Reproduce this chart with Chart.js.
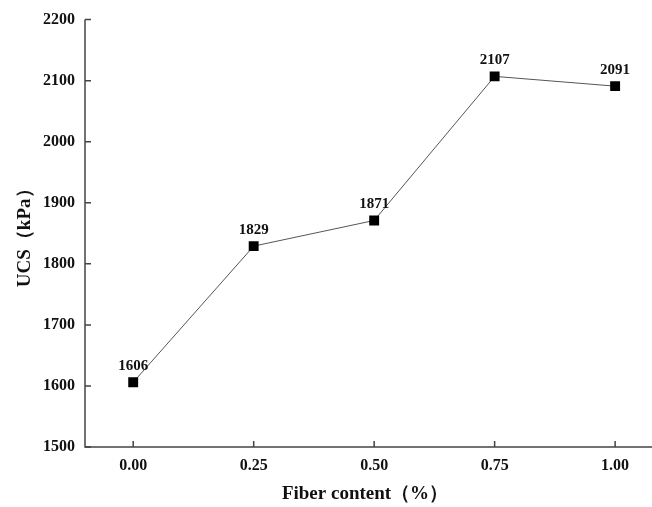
<!DOCTYPE html>
<html lang="en">
  <head>
    <meta charset="UTF-8" />
    <title>UCS vs Fiber content</title>
    <script src="https://cdn.jsdelivr.net/npm/chart.js"></script>
    <style>
      html, body { margin: 0; padding: 0; background: #fff; }
      #wrap { width: 652px; height: 507px; }
    </style>
  </head>
  <body>
    <div id="wrap"><canvas id="ucsChart" width="652" height="507"></canvas></div>

    <script>
      const fiberContent = [0.00, 0.25, 0.50, 0.75, 1.00];
      const ucsValues = [1606, 1829, 1871, 2107, 2091];
      const xTicks = [0.00, 0.25, 0.50, 0.75, 1.00];
      const yTicks = [1500, 1600, 1700, 1800, 1900, 2000, 2100, 2200];

      const FONT = '"Liberation Serif", "Times New Roman", serif';
      const AXIS_COLOR = '#444';

      // labels above each point
      const valueLabels = {
        id: 'valueLabels',
        afterDatasetsDraw(chart) {
          const ctx = chart.ctx;
          const meta = chart.getDatasetMeta(0);
          ctx.save();
          ctx.font = 'bold 15px ' + FONT;
          ctx.fillStyle = '#111';
          ctx.textAlign = 'center';
          ctx.textBaseline = 'alphabetic';
          meta.data.forEach((pt, i) => {
            ctx.fillText(String(ucsValues[i]), pt.x, pt.y - 12);
          });
          ctx.restore();
        }
      };

      // left + bottom axis lines with inward ticks
      const axesLines = {
        id: 'axesLines',
        afterDraw(chart) {
          const ctx = chart.ctx;
          const area = chart.chartArea;
          const xs = chart.scales.x, ys = chart.scales.y;
          ctx.save();
          ctx.strokeStyle = AXIS_COLOR;
          ctx.lineWidth = 1.5;
          ctx.beginPath();
          ctx.moveTo(area.left, area.top);
          ctx.lineTo(area.left, area.bottom);
          ctx.lineTo(chart.width, area.bottom);
          ctx.stroke();
          ctx.beginPath();
          ys.ticks.forEach(t => {
            const y = ys.getPixelForValue(t.value);
            ctx.moveTo(area.left, y);
            ctx.lineTo(area.left + 6, y);
          });
          xs.ticks.forEach(t => {
            const x = xs.getPixelForValue(t.value);
            ctx.moveTo(x, area.bottom);
            ctx.lineTo(x, area.bottom - 6);
          });
          ctx.stroke();
          ctx.restore();
        }
      };

      new Chart(document.getElementById('ucsChart').getContext('2d'), {
        type: 'line',
        data: {
          datasets: [{
            data: fiberContent.map((x, i) => ({ x: x, y: ucsValues[i] })),
            borderColor: '#555',
            borderWidth: 1,
            pointStyle: 'rect',
            pointRadius: 7,
            pointBackgroundColor: '#000',
            pointBorderColor: '#000',
            pointBorderWidth: 0,
            tension: 0
          }]
        },
        options: {
          responsive: false,
          animation: false,
          layout: { padding: { top: 12, right: 0, left: 14, bottom: 2 } },
          plugins: { legend: { display: false }, tooltip: { enabled: false } },
          scales: {
            x: {
              type: 'linear',
              min: -0.1,
              max: 1.062,
              afterBuildTicks: s => { s.ticks = xTicks.map(v => ({ value: v })); },
              afterFit: s => { s.height = 58; },
              grid: { display: false, drawTicks: false },
              border: { display: false },
              ticks: {
                padding: 9,
                color: '#111',
                font: { family: FONT, size: 16, weight: 'bold' },
                callback: v => Number(v).toFixed(2)
              },
              title: {
                display: true,
                text: 'Fiber content（%）',
                color: '#111',
                padding: { top: 6, bottom: 0 },
                font: { family: FONT, size: 19, weight: 'bold' }
              }
            },
            y: {
              min: 1500,
              max: 2200,
              afterBuildTicks: s => { s.ticks = yTicks.map(v => ({ value: v })); },
              afterFit: s => { s.width = 71; },
              grid: { display: false, drawTicks: false },
              border: { display: false },
              ticks: {
                padding: 10,
                color: '#111',
                font: { family: FONT, size: 16, weight: 'bold' },
                callback: v => String(v)
              },
              title: {
                display: true,
                text: 'UCS（kPa）',
                color: '#111',
                padding: { top: 0, bottom: 4 },
                font: { family: FONT, size: 19, weight: 'bold' }
              }
            }
          }
        },
        plugins: [valueLabels, axesLines]
      });
    </script>
  </body>
</html>
